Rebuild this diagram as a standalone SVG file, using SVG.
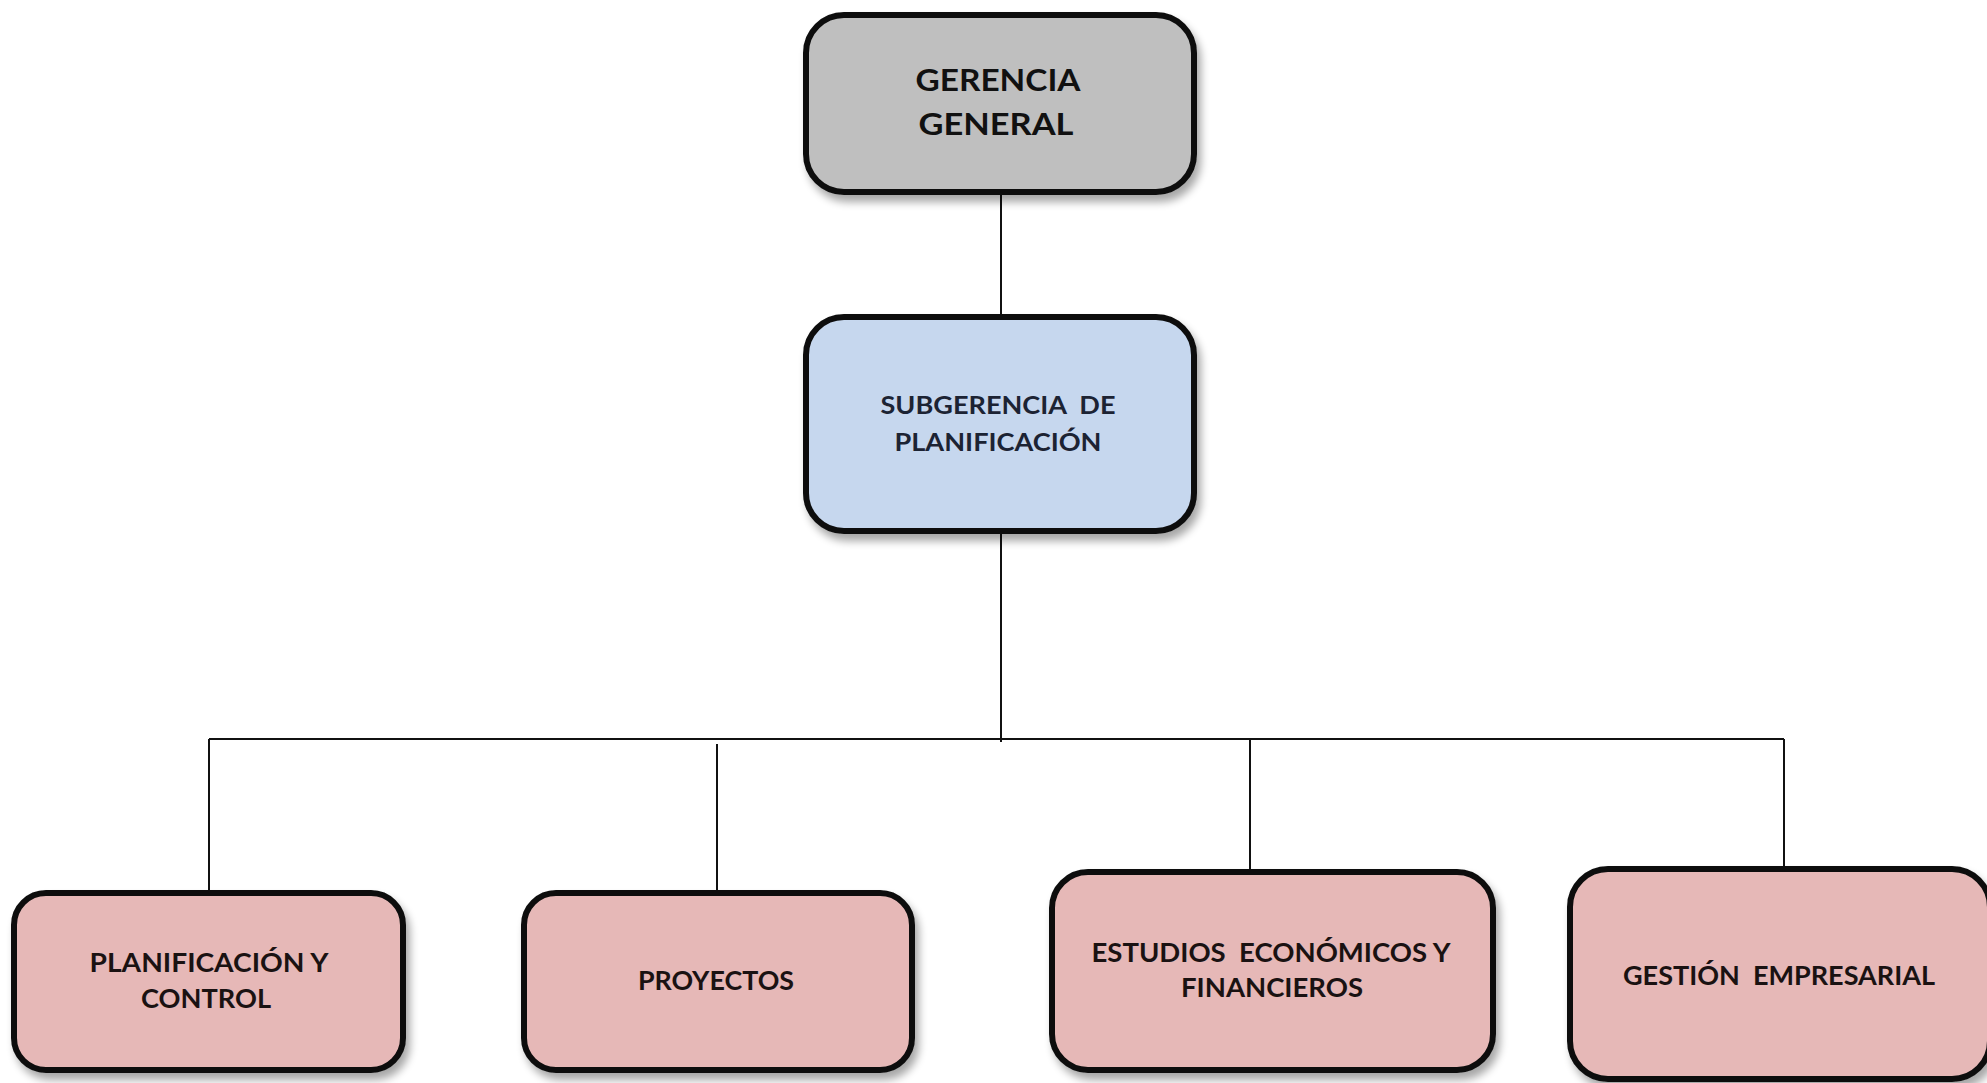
<svg xmlns="http://www.w3.org/2000/svg" width="1987" height="1083" viewBox="0 0 1987 1083">
<style>
.box{stroke:#0d0d0d;stroke-width:6;filter:url(#sh)}
.gray{fill:#bfbfbf}
.blue{fill:#c6d7ee}
.pink{fill:#e6b8b7}
.t{font-family:Lato,"Liberation Sans",sans-serif;font-weight:bold;text-anchor:middle;white-space:pre}
.big{font-size:31px;fill:#111}
.mid{font-size:24px;fill:#1c2333}
.small{font-size:26px;fill:#1a1212}
.conn{stroke:#111;stroke-width:2;fill:none}
</style>
<defs>
<filter id="sh" x="-10%" y="-10%" width="130%" height="140%">
<feGaussianBlur in="SourceAlpha" stdDeviation="4"/>
<feOffset dx="4" dy="7" result="b"/>
<feComponentTransfer><feFuncA type="linear" slope="0.35"/></feComponentTransfer>
<feMerge><feMergeNode/><feMergeNode in="SourceGraphic"/></feMerge>
</filter>
</defs>
<rect width="1987" height="1083" fill="#fff"/>
<g id="connectors">
<line class="conn" x1="1001" y1="190" x2="1001" y2="318"/>
<line class="conn" x1="1001" y1="530" x2="1001" y2="742"/>
<line class="conn" x1="209" y1="739" x2="1784" y2="739"/>
<line class="conn" x1="209" y1="739" x2="209" y2="893"/>
<line class="conn" x1="717" y1="744" x2="717" y2="893"/>
<line class="conn" x1="1250" y1="739" x2="1250" y2="872"/>
<line class="conn" x1="1784" y1="739" x2="1784" y2="869"/>
</g>
<g id="gerencia-general">
<rect class="box gray" x="806" y="15" width="388" height="177" rx="38"/>
<text class="t big" x="998" y="91" textLength="165" lengthAdjust="spacingAndGlyphs">GERENCIA</text>
<text class="t big" x="996" y="135" textLength="155" lengthAdjust="spacingAndGlyphs">GENERAL</text>
</g>
<g id="subgerencia">
<rect class="box blue" x="806" y="317" width="388" height="214" rx="38"/>
<text class="t mid" x="998" y="414" xml:space="preserve" textLength="235" lengthAdjust="spacingAndGlyphs">SUBGERENCIA  DE</text>
<text class="t mid" x="998" y="451" textLength="207" lengthAdjust="spacingAndGlyphs">PLANIFICACIÓN</text>
</g>
<g id="planificacion-control">
<rect class="box pink" x="14" y="893" width="389" height="177" rx="32"/>
<text class="t small" x="209" y="972" textLength="239" lengthAdjust="spacingAndGlyphs">PLANIFICACIÓN Y</text>
<text class="t small" x="206" y="1008" textLength="130" lengthAdjust="spacingAndGlyphs">CONTROL</text>
</g>
<g id="proyectos">
<rect class="box pink" x="524" y="893" width="388" height="177" rx="32"/>
<text class="t small" x="716" y="990" textLength="156" lengthAdjust="spacingAndGlyphs">PROYECTOS</text>
</g>
<g id="estudios">
<rect class="box pink" x="1052" y="872" width="441" height="198" rx="36"/>
<text class="t small" x="1271" y="962" xml:space="preserve" textLength="359" lengthAdjust="spacingAndGlyphs">ESTUDIOS  ECONÓMICOS Y</text>
<text class="t small" x="1272" y="997" textLength="182" lengthAdjust="spacingAndGlyphs">FINANCIEROS</text>
</g>
<g id="gestion">
<rect class="box pink" x="1570" y="869" width="420" height="210" rx="38"/>
<text class="t small" x="1779" y="985" xml:space="preserve" textLength="312" lengthAdjust="spacingAndGlyphs">GESTIÓN  EMPRESARIAL</text>
</g>
</svg>
